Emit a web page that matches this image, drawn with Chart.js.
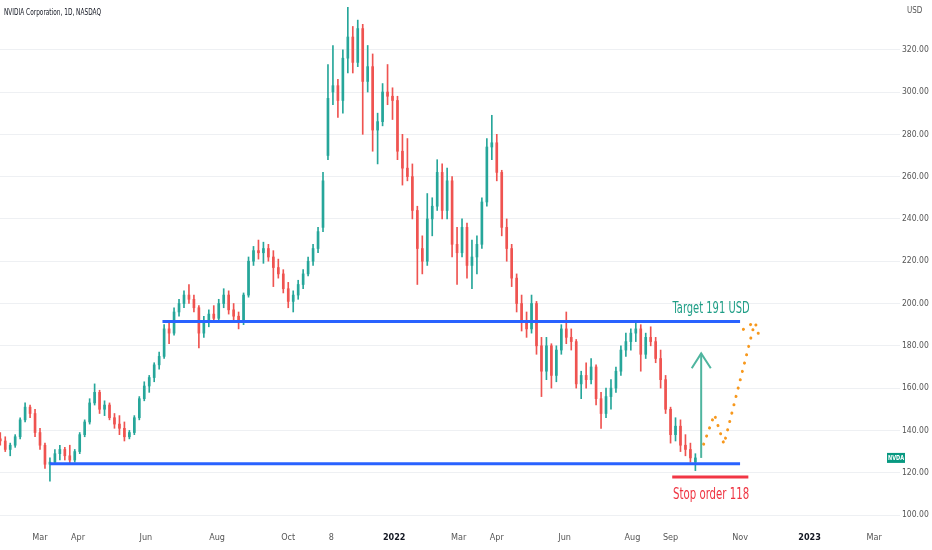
<!DOCTYPE html>
<html>
<head>
<meta charset="utf-8">
<title>NVIDIA Corporation, 1D, NASDAQ</title>
<script src="https://cdn.jsdelivr.net/npm/chart.js@4.4.1/dist/chart.umd.min.js"></script>
<style>
    html, body { margin: 0; padding: 0; background: #fff; overflow: hidden; }
    #wrap { position: relative; width: 932px; height: 550px; }
</style>
</head>
<body>
<div id="wrap"><canvas id="nvdaChart"></canvas></div>
<script>
// candles, three sessions each (USD)
const opens = [
    136, 135, 131, 133, 137, 145, 151, 148, 139, 133, 124, 125, 129, 131, 128, 126, 130, 138, 144, 153,
    158, 150, 152, 146, 143, 141, 137, 139, 146, 155, 161, 165, 171, 175, 188, 186, 196, 200, 204, 202,
    198, 186, 192, 195, 193, 200, 204, 197, 194, 191, 204, 220, 225, 224, 226, 222, 217, 214, 207, 201,
    204, 209, 214, 220, 226, 236, 270, 300, 303, 296, 316, 326, 314, 330, 305, 312, 282, 286, 300, 298,
    296, 272, 264, 260, 244, 226, 220, 240, 246, 262, 244, 258, 228, 224, 236, 218, 222, 228, 248, 274,
    276, 262, 236, 226, 212, 200, 192, 188, 200, 180, 168, 180, 166, 178, 188, 184, 182, 162, 166, 164,
    170, 155, 148, 156, 160, 168, 178, 182, 186, 188, 176, 184, 182, 174, 164, 150, 138, 142, 133, 131,
    125
];
const highs = [
    139, 137, 134, 138, 146, 153, 152, 150, 141, 134, 127, 131, 133, 132, 133, 131, 139, 145, 155, 162,
    159, 154, 153, 148, 147, 144, 140, 147, 156, 163, 166, 172, 177, 190, 192, 198, 202, 206, 209, 204,
    199, 194, 197, 199, 202, 207, 206, 200, 196, 205, 222, 227, 230, 229, 228, 225, 221, 216, 210, 206,
    211, 216, 222, 228, 236, 262, 313, 322, 306, 320, 340, 331, 334, 332, 322, 318, 290, 304, 313, 302,
    298, 280, 278, 266, 246, 232, 252, 250, 268, 266, 264, 260, 236, 240, 238, 230, 232, 250, 278, 289,
    280, 263, 240, 228, 214, 204, 196, 204, 201, 184, 184, 181, 180, 190, 196, 188, 183, 168, 172, 174,
    171, 158, 160, 164, 170, 180, 186, 188, 191, 190, 186, 189, 184, 178, 166, 151, 146, 145, 138, 134,
    129
];
const lows = [
    133, 130, 128, 132, 136, 144, 146, 137, 131, 122, 116, 124, 126, 126, 124, 125, 129, 137, 143, 152,
    148, 147, 145, 141, 138, 135, 136, 138, 145, 154, 158, 163, 169, 174, 181, 185, 194, 198, 200, 196,
    179, 184, 189, 191, 192, 198, 195, 191, 188, 190, 203, 218, 221, 219, 220, 208, 212, 205, 198, 196,
    202, 207, 213, 218, 224, 234, 268, 294, 288, 290, 309, 309, 312, 280, 300, 272, 266, 284, 294, 287,
    268, 256, 258, 240, 209, 214, 218, 232, 244, 240, 240, 222, 209, 222, 212, 207, 214, 226, 246, 268,
    258, 232, 220, 208, 196, 187, 184, 186, 176, 156, 164, 160, 163, 176, 181, 178, 160, 155, 160, 162,
    152, 141, 146, 150, 158, 166, 175, 178, 182, 168, 174, 180, 172, 160, 148, 134, 135, 130, 128, 125,
    121
];
const closes = [
    135, 131, 133, 137, 145, 151, 148, 139, 133, 124, 125, 129, 131, 128, 126, 130, 138, 144, 153, 158,
    150, 152, 146, 143, 141, 137, 139, 146, 155, 161, 165, 171, 175, 188, 186, 196, 200, 204, 202, 198,
    186, 192, 195, 193, 200, 204, 197, 194, 191, 204, 220, 225, 224, 226, 222, 217, 214, 207, 201, 204,
    209, 214, 220, 226, 234, 258, 297, 303, 296, 316, 326, 314, 330, 305, 312, 282, 286, 300, 298, 296,
    272, 264, 260, 244, 226, 220, 240, 246, 262, 244, 258, 228, 224, 236, 218, 222, 228, 248, 274, 276,
    262, 236, 226, 212, 200, 192, 188, 200, 180, 168, 180, 166, 178, 188, 184, 182, 162, 166, 164, 170,
    155, 148, 156, 160, 168, 178, 182, 186, 188, 176, 184, 182, 174, 164, 150, 138, 142, 133, 131, 127,
    127
];
const firstBar = -24;   // session index of the first candle, 0 = 1 Mar 2021
const barStep = 3;

// time axis labels (session index, text)
const tickDays = [0, 23, 64, 107, 150, 176, 214, 253, 276, 317, 358, 381, 423, 465, 504];
const tickLabels = ["Mar", "Apr", "Jun", "Aug", "Oct", "8", "2022", "Mar", "Apr", "Jun", "Aug", "Sep", "Nov", "2023", "Mar"];
const priceTicks = [100, 120, 140, 160, 180, 200, 220, 240, 260, 280, 300, 320];

// drawn levels and marks
const targetLevel = 191.5;
const supportLevel = 124.3;
const stopLevel = 118;
const targetSpan = [74, 423];
const supportSpan = [6, 423];
const stopSpan = [382, 428];
const arrowShaft = [{ x: 399.5, y: 127 }, { x: 399.5, y: 176.4 }];
const arrowHead = [{ x: 393.8, y: 169.4 }, { x: 399.5, y: 176.4 }, { x: 405.3, y: 169.4 }];
const pathPoints = [{ x: 401, y: 133.5 }, { x: 407.5, y: 147.5 }, { x: 413.3, y: 133.5 }, { x: 432, y: 191.4 }];
const pathHead = [{ x: 425, y: 187.8 }, { x: 432, y: 191.4 }, { x: 435.3, y: 182.3 }];

const UP = "#26a69a";
const DOWN = "#ef5350";
const narrow = "'Liberation Sans Narrow', 'DejaVu Sans Condensed', 'Roboto', sans-serif";

let candleColors = [];
let wickData = [];
let bodyData = [];
closes.forEach((c, i) => {
    let x = firstBar + i * barStep;
    candleColors.push(c >= opens[i] ? UP : DOWN);
    wickData.push({ x: x, y: [lows[i], highs[i]] });
    bodyData.push({ x: x, y: [opens[i], c] });
});

function levelLine(level, span) {
    return [{ x: span[0], y: level }, { x: span[1], y: level }];
}

const notesPlugin = {
    id: "notes",
    afterDraw(chart) {
        let ctx = chart.ctx;
        let xs = chart.scales.x;
        let ys = chart.scales.y;
        let area = chart.chartArea;
        ctx.save();

        ctx.fillStyle = "#131722";
        ctx.font = "9.5px " + narrow;
        ctx.textAlign = "left";
        ctx.textBaseline = "middle";
        ctx.fillText("NVIDIA Corporation, 1D, NASDAQ", 4, 13, 97);

        ctx.fillStyle = "#555";
        ctx.font = "8px " + narrow;
        ctx.fillText("USD", area.right + 23, 11);

        // last price tag on the scale
        let lastY = ys.getPixelForValue(closes[closes.length - 1]);
        ctx.fillStyle = "#089981";
        ctx.fillRect(area.right + 3, lastY - 5, 18, 10);
        ctx.fillStyle = "#fff";
        ctx.font = "bold 7px " + narrow;
        ctx.textAlign = "center";
        ctx.fillText("NVDA", area.right + 12, lastY + 0.5, 16);

        let cx = xs.getPixelForValue(405.5);
        ctx.font = "16px " + narrow;
        ctx.textBaseline = "alphabetic";
        ctx.fillStyle = "#1f9e86";
        ctx.fillText("Target 191 USD", cx, ys.getPixelForValue(targetLevel) - 8, 77);
        ctx.fillStyle = "#ef3340";
        ctx.fillText("Stop order 118", cx, ys.getPixelForValue(stopLevel) + 22, 76);
        ctx.restore();
    }
};

let ctx = document.getElementById("nvdaChart").getContext("2d");
new Chart(ctx, {
    type: "bar",
    data: {
        datasets: [
            { type: "line", data: levelLine(targetLevel, targetSpan), borderColor: "#2962ff", borderWidth: 3, pointRadius: 0, order: 1 },
            { type: "line", data: levelLine(supportLevel, supportSpan), borderColor: "#2962ff", borderWidth: 3, pointRadius: 0, order: 1 },
            { type: "line", data: levelLine(stopLevel, stopSpan), borderColor: "#f23645", borderWidth: 3, pointRadius: 0, order: 1 },
            { type: "line", data: arrowShaft, borderColor: "#4fb59f", borderWidth: 2, pointRadius: 0, order: 1 },
            { type: "line", data: arrowHead, borderColor: "#4fb59f", borderWidth: 2, pointRadius: 0, order: 1 },
            {
                type: "line", data: pathPoints, borderColor: "#f7981d", borderWidth: 3, pointRadius: 0,
                borderDash: [0.1, 8.5], borderCapStyle: "round", order: 1
            },
            {
                type: "line", data: pathHead, borderColor: "#f7981d", borderWidth: 3, pointRadius: 0,
                borderDash: [0.1, 8.5], borderCapStyle: "round", order: 1
            },
            { type: "bar", data: wickData, backgroundColor: candleColors, barThickness: 1, grouped: false, order: 3 },
            { type: "bar", data: bodyData, backgroundColor: candleColors, barThickness: 2, grouped: false, minBarLength: 1, order: 2 }
        ]
    },
    options: {
        responsive: true,
        maintainAspectRatio: false,
        animation: false,
        layout: { padding: 0 },
        plugins: {
            legend: { display: false },
            tooltip: { enabled: false }
        },
        scales: {
            x: {
                type: "linear",
                min: -24.17,
                max: 509.97,
                offset: false,
                grid: { display: false, drawTicks: false },
                border: { display: false },
                afterBuildTicks: (scale) => { scale.ticks = tickDays.map(v => ({ value: v })); },
                afterFit: (scale) => { scale.height = 28; },
                ticks: {
                    autoSkip: false,
                    maxRotation: 0,
                    padding: 10,
                    color: (c) => /^20/.test(tickLabels[c.index]) ? "#131722" : "#555",
                    font: (c) => ({ family: narrow, size: 9, weight: /^20/.test(tickLabels[c.index]) ? "bold" : "normal" }),
                    callback: (value, index) => tickLabels[index]
                }
            },
            y: {
                type: "linear",
                position: "right",
                min: 96.7,
                max: 340.15,
                grid: { color: "#eef0f3", tickLength: 16 },
                border: { display: false },
                afterBuildTicks: (scale) => { scale.ticks = priceTicks.map(v => ({ value: v })); },
                afterFit: (scale) => { scale.width = 48; },
                ticks: {
                    padding: 2,
                    color: "#555",
                    font: { family: narrow, size: 8.5 },
                    callback: (value) => value.toFixed(2)
                }
            }
        }
    },
    plugins: [notesPlugin]
});
</script>
</body>
</html>
